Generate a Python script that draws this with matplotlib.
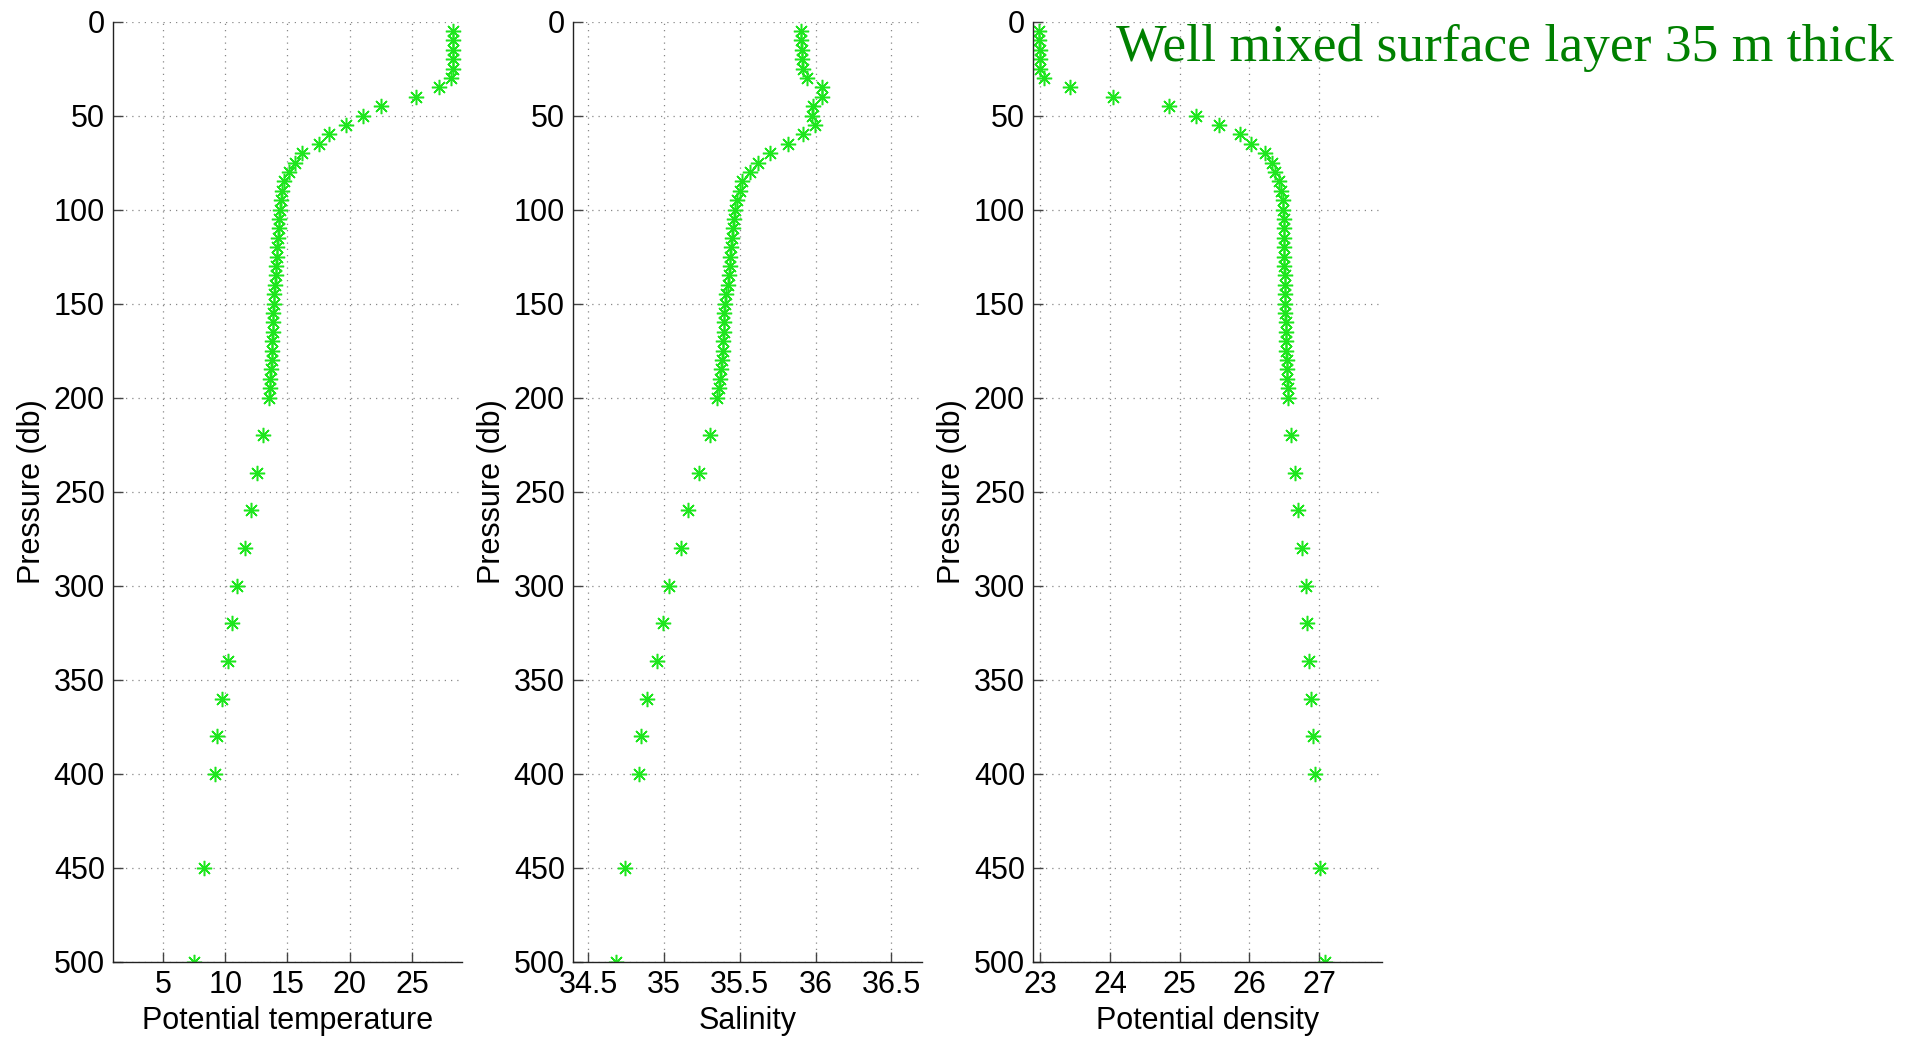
import matplotlib
matplotlib.use('Agg')
import matplotlib.pyplot as plt

# pressure levels (db)
pressure = [5, 10, 15, 20, 25, 30, 35, 40, 45, 50,
            55, 60, 65, 70, 75, 80, 85, 90, 95, 100,
            105, 110, 115, 120, 125, 130, 135, 140, 145, 150,
            155, 160, 165, 170, 175, 180, 185, 190, 195, 200,
            220, 240, 260, 280, 300, 320, 340, 360, 380, 400,
            450, 500]

temperature = [28.3, 28.3, 28.3, 28.3, 28.28, 28.15, 27.2, 25.3, 22.5, 21.1,
               19.7, 18.3, 17.5, 16.15, 15.6, 15.1, 14.7, 14.55, 14.45, 14.36,
               14.32, 14.28, 14.23, 14.18, 14.14, 14.1, 14.05, 14.0, 13.94, 13.88,
               13.85, 13.82, 13.8, 13.78, 13.75, 13.72, 13.68, 13.63, 13.58, 13.54,
               13.06, 12.52, 12.04, 11.56, 10.93, 10.57, 10.21, 9.71, 9.36, 9.21,
               8.29, 7.5]

salinity = [35.905, 35.905, 35.908, 35.908, 35.915, 35.942, 36.045, 36.045, 35.986, 35.975,
            35.997, 35.92, 35.82, 35.70, 35.62, 35.566, 35.513, 35.498, 35.48, 35.47,
            35.462, 35.455, 35.449, 35.443, 35.438, 35.434, 35.428, 35.42, 35.41, 35.40,
            35.398, 35.396, 35.394, 35.392, 35.39, 35.385, 35.378, 35.37, 35.36, 35.347,
            35.30, 35.23, 35.16, 35.11, 35.032, 34.99, 34.95, 34.89, 34.85, 34.833,
            34.74, 34.68]

density = [22.98, 22.98, 22.99, 22.99, 23.0, 23.05, 23.42, 24.04, 24.84, 25.23,
           25.57, 25.86, 26.02, 26.23, 26.32, 26.37, 26.43, 26.45, 26.48, 26.49,
           26.495, 26.497, 26.5, 26.5, 26.5, 26.502, 26.505, 26.507, 26.51, 26.512,
           26.515, 26.52, 26.523, 26.527, 26.53, 26.535, 26.54, 26.545, 26.55, 26.56,
           26.60, 26.66, 26.70, 26.75, 26.81, 26.83, 26.86, 26.89, 26.92, 26.94,
           27.01, 27.09]

y_ticks = [0, 50, 100, 150, 200, 250, 300, 350, 400, 450, 500]

panels = [
    (temperature, 'Potential temperature', (1, 29), [5, 10, 15, 20, 25], ['5', '10', '15', '20', '25']),
    (salinity, 'Salinity', (34.4, 36.7), [34.5, 35, 35.5, 36, 36.5], ['34.5', '35', '35.5', '36', '36.5']),
    (density, 'Potential density', (22.9, 27.9), [23, 24, 25, 26, 27], ['23', '24', '25', '26', '27']),
]

plt.rcParams['font.family'] = ['Liberation Sans', 'DejaVu Sans']
plt.rcParams['font.size'] = 22

fig = plt.figure(figsize=(19.14, 10.37), dpi=100)

lefts = [0.0592, 0.2995, 0.5399]
for left, (vals, label, xlim, xt, xtl) in zip(lefts, panels):
    ax = fig.add_axes([left, 0.0726, 0.1820, 0.9065])
    ax.plot(vals, pressure, linestyle='none', marker=(8, 2, 0), color='#1ee61e',
            markersize=11, markeredgewidth=1.1)
    ax.set_xlim(xlim)
    ax.set_ylim(500, 0)
    ax.set_xticks(xt)
    ax.set_xticklabels(xtl)
    ax.set_yticks(y_ticks)
    ax.grid(True, color='#888888', linestyle=(0, (1, 4)), linewidth=0.9)
    ax.spines['top'].set_visible(False)
    ax.spines['right'].set_visible(False)
    for s in ['left', 'bottom']:
        ax.spines[s].set_linewidth(1.0)
        ax.spines[s].set_color('#222222')
    ax.tick_params(direction='in', length=7, width=1.0, color='#444444', pad=6)
    ax.set_xlabel(label, labelpad=4)
    ax.set_ylabel('Pressure (db)', labelpad=5)

fig.text(1115.6 / 1914, 1 - 61 / 1037, 'Well mixed surface layer 35 m thick',
         color='#008000', fontsize=38.5, family='Liberation Serif', va='baseline', ha='left')

fig.savefig('out.png', dpi=100)
